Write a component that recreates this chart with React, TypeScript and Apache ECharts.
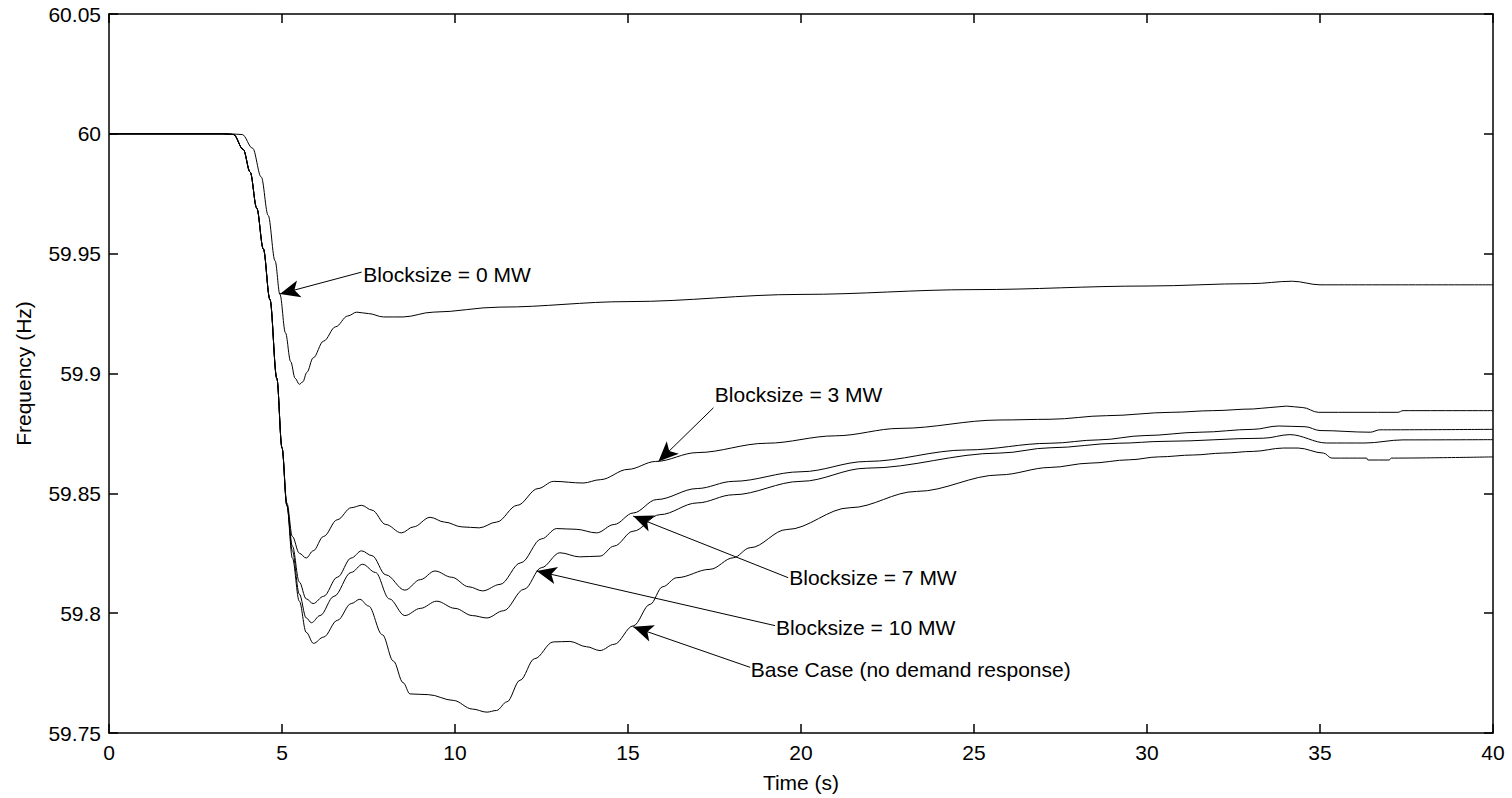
import React, { useEffect, useRef } from "react";
import * as echarts from "echarts";

// Frequency traces: [time (s), frequency (Hz)]
const curve0MW: [number, number][] = [
  [0, 60], [3.5, 60], [3.85, 59.9997], [4.15, 59.994], [4.4, 59.982], [4.6, 59.966],
  [4.8, 59.947], [4.94, 59.933], [5.1, 59.917], [5.25, 59.905], [5.38, 59.898],
  [5.5, 59.8955], [5.6, 59.8965], [5.72, 59.9005], [5.9, 59.9065], [6.2, 59.9135],
  [6.55, 59.9195], [6.9, 59.924], [7.16, 59.9256], [7.5, 59.925], [7.93, 59.9236],
  [8.5, 59.9236], [9.37, 59.9256], [11.3, 59.9277], [15, 59.93], [20, 59.933],
  [25, 59.935], [30, 59.9365], [33, 59.9375], [34.2, 59.9385], [35, 59.937], [40, 59.937],
];

const curve3MW: [number, number][] = [
  [0, 60], [3.3, 60], [3.6, 59.9997], [3.88, 59.9935], [4.08, 59.984], [4.27, 59.969],
  [4.46, 59.952], [4.65, 59.931], [4.85, 59.898], [5.0, 59.869], [5.14, 59.846],
  [5.3, 59.832], [5.5, 59.825], [5.7, 59.823], [5.9, 59.826], [6.2, 59.832],
  [6.6, 59.839], [7.0, 59.844], [7.3, 59.845], [7.6, 59.843], [8.0, 59.837],
  [8.45, 59.8335], [8.8, 59.836], [9.28, 59.84], [9.7, 59.838], [10.2, 59.836],
  [10.7, 59.8356], [11.2, 59.838], [11.8, 59.845], [12.4, 59.852], [12.85, 59.855],
  [13.7, 59.8543], [14.2, 59.8557], [15.0, 59.86], [15.8, 59.8633], [17, 59.867],
  [19, 59.8709], [21, 59.874], [22.86, 59.8771], [25.75, 59.8806], [27.2, 59.8809],
  [28.83, 59.8824], [30.7, 59.8838], [31.9, 59.8845], [33.07, 59.8852], [33.55, 59.8858],
  [34.03, 59.8864], [34.5, 59.8858], [34.95, 59.8838], [37.25, 59.8838], [37.4, 59.8845],
  [40, 59.8845],
];

const curve7MW: [number, number][] = [
  [0, 60], [3.3, 60], [3.6, 59.9997], [3.88, 59.9935], [4.08, 59.984], [4.27, 59.969],
  [4.46, 59.952], [4.65, 59.931], [4.85, 59.898], [5.0, 59.869], [5.14, 59.845],
  [5.3, 59.828], [5.5, 59.813], [5.7, 59.806], [5.9, 59.804], [6.2, 59.807],
  [6.6, 59.815], [7.0, 59.823], [7.3, 59.826], [7.6, 59.824], [8.0, 59.816],
  [8.55, 59.8096], [9.0, 59.814], [9.42, 59.8176], [9.9, 59.815], [10.4, 59.811],
  [10.8, 59.8093], [11.3, 59.812], [11.9, 59.821], [12.5, 59.831], [12.94, 59.8353],
  [13.5, 59.835], [14.09, 59.8335], [14.6, 59.837], [15.15, 59.8418], [15.83, 59.8474],
  [17, 59.852], [18.04, 59.855], [20, 59.859], [21.9, 59.8633], [24.79, 59.8681],
  [27.2, 59.8709], [28.6, 59.8723], [29.94, 59.8741], [31.53, 59.8755], [33.07, 59.8767],
  [33.8, 59.8781], [34.57, 59.8778], [35.0, 59.8762], [36.45, 59.8755], [36.73, 59.8765],
  [40, 59.8767],
];

const curve10MW: [number, number][] = [
  [0, 60], [3.3, 60], [3.6, 59.9997], [3.88, 59.9935], [4.08, 59.984], [4.27, 59.969],
  [4.46, 59.952], [4.65, 59.931], [4.85, 59.898], [5.0, 59.869], [5.14, 59.845],
  [5.3, 59.826], [5.5, 59.808], [5.7, 59.798], [5.85, 59.796], [6.1, 59.799],
  [6.5, 59.807], [7.0, 59.817], [7.33, 59.8204], [7.7, 59.817], [8.1, 59.806],
  [8.55, 59.799], [9.0, 59.802], [9.47, 59.805], [10.0, 59.802], [10.5, 59.799],
  [10.92, 59.798], [11.4, 59.801], [12.0, 59.81], [12.5, 59.819], [13.03, 59.8252],
  [13.6, 59.8235], [14.19, 59.8238], [14.6, 59.828], [15.15, 59.8342], [15.92, 59.8411],
  [17, 59.846], [18.04, 59.8494], [20, 59.855], [21.9, 59.8605], [25.75, 59.8668],
  [27.2, 59.869], [29.17, 59.8709], [30.52, 59.8717], [33.36, 59.873], [34.13, 59.8745],
  [35.19, 59.871], [36.3, 59.871], [37.4, 59.8723], [40, 59.8724],
];

const curveBase: [number, number][] = [
  [0, 60], [3.3, 60], [3.6, 59.9997], [3.88, 59.9935], [4.08, 59.984], [4.27, 59.969],
  [4.46, 59.952], [4.65, 59.931], [4.85, 59.898], [5.0, 59.869], [5.14, 59.845],
  [5.3, 59.823], [5.5, 59.805], [5.7, 59.792], [5.91, 59.7874], [6.2, 59.79],
  [6.6, 59.797], [7.0, 59.804], [7.25, 59.8058], [7.5, 59.803], [7.9, 59.791],
  [8.22, 59.78], [8.5, 59.771], [8.7, 59.7663], [9.23, 59.766], [9.95, 59.7636],
  [10.5, 59.76], [10.92, 59.7587], [11.2, 59.7594], [11.5, 59.763], [11.88, 59.772],
  [12.3, 59.781], [12.84, 59.788], [13.32, 59.7882], [13.8, 59.786], [14.19, 59.7844],
  [14.6, 59.787], [15.15, 59.7947], [15.64, 59.8037], [16.0, 59.811], [16.41, 59.8148],
  [17.37, 59.8183], [18.04, 59.8231], [18.53, 59.8273], [19.59, 59.8349], [21.42, 59.844],
  [23.34, 59.8508], [25.75, 59.8577], [27.2, 59.8608], [28.35, 59.8626], [29.5, 59.864],
  [30.33, 59.8652], [31.34, 59.866], [32.2, 59.8668], [33.07, 59.8675], [33.94, 59.8689],
  [34.37, 59.8689], [35.1, 59.8668], [35.34, 59.8647], [36.35, 59.8647], [36.38, 59.8639],
  [37.0, 59.8639], [37.06, 59.8647], [40, 59.8652],
];

const seriesNames = ["Blocksize = 0 MW", "Blocksize = 3 MW", "Blocksize = 7 MW", "Blocksize = 10 MW", "Base Case"];

// Annotations (data coordinates)
const annotationLabels = [
  "Blocksize = 0 MW",
  "Blocksize = 3 MW",
  "Blocksize = 7 MW",
  "Blocksize = 10 MW",
  "Base Case (no demand response)",
];
const annotationTips: [number, number][] = [
  [4.94, 59.9332], [15.88, 59.8633], [15.15, 59.8405], [12.36, 59.8176], [15.15, 59.7943],
];
const annotationTails: [number, number][] = [
  [7.3, 59.9423], [17.47, 59.8857], [19.63, 59.8148], [19.25, 59.7948], [18.53, 59.7774],
];
const annotationTextAnchors: [number, number][] = [
  [7.35, 59.9415], [17.51, 59.8913], [19.66, 59.8148], [19.28, 59.7941], [18.55, 59.7767],
];

const xTicks = { min: 0, max: 40, interval: 5 };
const yTicks = { min: 59.75, max: 60.05, interval: 0.05 };

const FONT = '"Liberation Sans", Arial, Helvetica, sans-serif';
const FS = 21;

export default function App() {
  const ref = useRef<HTMLDivElement>(null);
  useEffect(() => {
    const chart = echarts.init(ref.current!, null, { renderer: "svg" });
    const curves = [curve0MW, curve3MW, curve7MW, curve10MW, curveBase];
    const tickStyle = () => ({ show: true, inside: true, length: 9, lineStyle: { color: "#000", width: 1.5 } });
    const axisLine = () => ({ show: true, onZero: false, lineStyle: { color: "#000", width: 1.5 } });
    const labelStyle = { color: "#000", fontSize: FS, fontFamily: FONT };
    const series: any[] = curves.map((data, i) => ({
      name: seriesNames[i],
      type: "line",
      data,
      xAxisIndex: 0,
      yAxisIndex: 0,
      symbol: "none",
      showSymbol: false,
      smooth: 0.35,
      smoothMonotone: "x",
      silent: true,
      lineStyle: { color: "#000", width: 1 },
      markLine: {
        silent: true,
        animation: false,
        symbol: ["none", "arrow"],
        symbolSize: [13, 20],
        lineStyle: { color: "#000", width: 1, type: "solid" },
        label: { show: false },
        emphasis: { disabled: true },
        data: [[{ coord: annotationTails[i] }, { coord: annotationTips[i] }]],
      },
    }));
    chart.setOption({
      animation: false,
      backgroundColor: "#fff",
      grid: { left: 109, right: 19, top: 14, bottom: 61, containLabel: false },
      xAxis: [
        {
          type: "value",
          ...xTicks,
          position: "bottom",
          axisLine: axisLine(),
          axisTick: tickStyle(),
          splitLine: { show: false },
          axisLabel: { ...labelStyle, margin: 9 },
          name: "Time (s)",
          nameLocation: "middle",
          nameGap: 39,
          nameTextStyle: labelStyle,
        },
        {
          type: "value",
          ...xTicks,
          position: "top",
          axisLine: axisLine(),
          axisTick: tickStyle(),
          splitLine: { show: false },
          axisLabel: { show: false },
        },
      ],
      yAxis: [
        {
          type: "value",
          ...yTicks,
          position: "left",
          axisLine: axisLine(),
          axisTick: tickStyle(),
          splitLine: { show: false },
          axisLabel: { ...labelStyle, margin: 8 },
          name: "Frequency (Hz)",
          nameLocation: "middle",
          nameGap: 75,
          nameTextStyle: labelStyle,
        },
        {
          type: "value",
          ...yTicks,
          position: "right",
          axisLine: axisLine(),
          axisTick: tickStyle(),
          splitLine: { show: false },
          axisLabel: { show: false },
        },
      ],
      series,
    });
    const texts = annotationTextAnchors.map((p, i) => {
      const px = chart.convertToPixel({ gridIndex: 0 }, p) as number[];
      return {
        type: "text",
        x: px[0],
        y: px[1],
        silent: true,
        z: 10,
        style: {
          text: annotationLabels[i],
          fill: "#000",
          font: `${FS}px ${FONT}`,
          textAlign: "left",
          textVerticalAlign: "middle",
        },
      };
    });
    chart.setOption({ graphic: texts });
    return () => chart.dispose();
  }, []);
  return (
    <div
      ref={ref}
      style={{ position: "fixed", left: 0, top: 0, width: 1512, height: 798, background: "#fff" }}
    />
  );
}
